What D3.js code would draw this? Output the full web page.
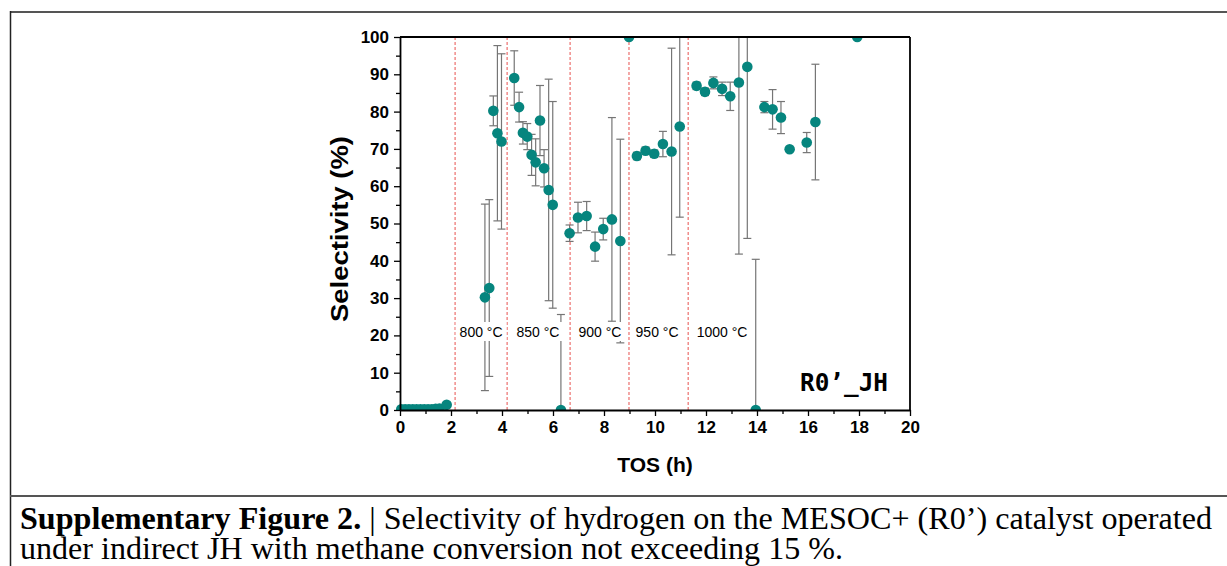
<!DOCTYPE html>
<html>
<head>
<meta charset="utf-8">
<script src="https://cdn.jsdelivr.net/npm/d3@7"></script>
<style>
  body { margin: 0; background: #fff; }
  svg { display: block; }
</style>
</head>
<body>
<div id="chart"></div>
<script>
// TOS (h), selectivity (%) and error (+/- %)
const tos = [0.05, 0.2, 0.35, 0.5, 0.65, 0.8, 0.95, 1.1, 1.25, 1.4, 1.55, 1.83,
  3.33, 3.5, 3.66, 3.82, 3.98,
  4.48, 4.67, 4.82, 4.99, 5.16, 5.32, 5.49, 5.65, 5.83, 5.99, 6.31,
  6.65, 6.98, 7.32, 7.65, 7.97, 8.31, 8.64, 8.98,
  9.29, 9.63, 9.97, 10.31, 10.65, 10.97,
  11.63, 11.96, 12.29, 12.63, 12.95, 13.29, 13.62, 13.95, 14.29, 14.61, 14.94, 15.28, 15.95, 16.29, 17.93];
const selectivity = [0.2, 0.2, 0.2, 0.2, 0.2, 0.2, 0.2, 0.2, 0.2, 0.3, 0.4, 1.4,
  30.2, 32.7, 80.2, 74.2, 72.0,
  89.0, 81.2, 74.3, 73.3, 68.4, 66.4, 77.6, 64.8, 59.0, 55.0, 0,
  47.4, 51.6, 52.0, 43.8, 48.5, 51.1, 45.3, 100,
  68.1, 69.5, 68.7, 71.3, 69.3, 76.0,
  86.9, 85.3, 87.7, 86.1, 84.1, 87.8, 92.0, 0, 81.2, 80.6, 78.4, 69.9, 71.7, 77.2, 100];
const errors = [0, 0, 0, 0, 0, 0, 0, 0, 0, 0, 0.3, 0.6,
  25, 23.7, 4, 23.5, 23.5,
  7.3, 4, 3, 3.5, 5.5, 6.3, 9.4, 5, 29.7, 27.7, 25.6,
  2.2, 4.1, 3.9, 3.9, 2.9, 27.3, 27.3, 0,
  1, 1, 1, 3.4, 27.7, 24.3,
  1, 1, 1.6, 1.8, 3.8, 46, 46, 40.4, 1.5, 5.3, 4.3, 0.5, 2.7, 15.5, 0];

// temperature steps
const tempBounds = [2.16, 4.2, 6.67, 8.98, 11.3];
const tempLabels = ['800 °C', '850 °C', '900 °C', '950 °C', '1000 °C'];
const tempLabelAt = [3.18, 5.41, 7.84, 10.08, 12.63];

const xTickValues = [0, 2, 4, 6, 8, 10, 12, 14, 16, 18, 20];
const yTickValues = [0, 10, 20, 30, 40, 50, 60, 70, 80, 90, 100];

const data = tos.map((t, i) => ({ t, v: selectivity[i], e: errors[i] }));

const W = 1227, H = 566;
const margin = { top: 37, right: W - 910, bottom: H - 410, left: 400 };
const width = W - margin.left - margin.right;
const height = H - margin.top - margin.bottom;
const sans = "'Liberation Sans', Arial, sans-serif";

const svg = d3.select('#chart').append('svg')
  .attr('width', W)
  .attr('height', H)
  .style('font-family', sans);

// outer frame of the figure
svg.append('line').attr('x1', 10).attr('x2', W).attr('y1', 12).attr('y2', 12)
  .attr('stroke', '#555').attr('stroke-width', 2);
svg.append('line').attr('x1', 10.5).attr('x2', 10.5).attr('y1', 11).attr('y2', H)
  .attr('stroke', '#222').attr('stroke-width', 1.5);
svg.append('line').attr('x1', 10).attr('x2', W).attr('y1', 496).attr('y2', 496)
  .attr('stroke', '#555').attr('stroke-width', 2);

const x = d3.scaleLinear().domain([0, 20]).range([0, width]);
const y = d3.scaleLinear().domain([0, 100]).range([height, 0]);

const g = svg.append('g').attr('transform', `translate(${margin.left},${margin.top})`);

g.append('clipPath').attr('id', 'clip')
  .append('rect').attr('x', -8).attr('y', 0).attr('width', width + 16).attr('height', height);

// temperature boundaries
g.selectAll('.tline')
  .data(tempBounds)
  .enter()
  .append('line')
  .attr('x1', d => x(d)).attr('x2', d => x(d))
  .attr('y1', 0).attr('y2', height)
  .attr('stroke', '#e8514f')
  .attr('stroke-width', 1)
  .attr('stroke-dasharray', '3,2');

// error bars
const plot = g.append('g').attr('clip-path', 'url(#clip)');
const bars = plot.selectAll('.err')
  .data(data.filter(d => d.e > 0))
  .enter()
  .append('g')
  .attr('stroke', '#757575')
  .attr('stroke-width', 1.2);
bars.append('line')
  .attr('x1', d => x(d.t)).attr('x2', d => x(d.t))
  .attr('y1', d => y(d.v + d.e)).attr('y2', d => y(Math.max(0, d.v - d.e)));
bars.append('line')
  .attr('x1', d => x(d.t) - 4).attr('x2', d => x(d.t) + 4)
  .attr('y1', d => y(d.v + d.e)).attr('y2', d => y(d.v + d.e));
bars.filter(d => d.v - d.e > 0).append('line')
  .attr('x1', d => x(d.t) - 4).attr('x2', d => x(d.t) + 4)
  .attr('y1', d => y(d.v - d.e)).attr('y2', d => y(d.v - d.e));

// temperature labels (white box masks the bars behind)
const tl = g.selectAll('.tlab')
  .data(tempLabels)
  .enter()
  .append('g')
  .attr('transform', (d, i) => `translate(${x(tempLabelAt[i])},${295})`);
tl.append('rect')
  .attr('x', d => -d.length * 3.9 - 2).attr('y', -10)
  .attr('width', d => d.length * 7.8 + 4).attr('height', 19)
  .attr('fill', '#fff');
tl.append('text')
  .attr('text-anchor', 'middle')
  .attr('dy', '0.35em')
  .style('font-size', '14px')
  .text(d => d);

// points
plot.selectAll('circle')
  .data(data)
  .enter()
  .append('circle')
  .attr('cx', d => x(d.t))
  .attr('cy', d => y(d.v))
  .attr('r', 5.3)
  .attr('fill', '#06857e');

// axes
const xAxis = g.append('g')
  .attr('transform', `translate(0,${height})`)
  .call(d3.axisBottom(x).tickValues(xTickValues).tickSize(6).tickSizeOuter(0).tickPadding(5));
g.append('g')
  .attr('transform', `translate(0,${height})`)
  .call(d3.axisBottom(x).tickValues(d3.range(1, 20, 2)).tickSize(4).tickFormat(''))
  .call(a => a.select('.domain').remove());
const yAxis = g.append('g')
  .call(d3.axisLeft(y).tickValues(yTickValues).tickSize(6).tickSizeOuter(0).tickPadding(5));
g.append('g')
  .call(d3.axisLeft(y).tickValues(d3.range(5, 100, 10)).tickSize(4).tickFormat(''))
  .call(a => a.select('.domain').remove());

g.selectAll('.tick line').attr('stroke', '#000').attr('stroke-width', 1.3);
g.selectAll('.domain').attr('stroke', '#000').attr('stroke-width', 1.8);
[xAxis, yAxis].forEach(a => a.selectAll('text')
  .attr('fill', '#000')
  .style('font-size', '17px')
  .style('font-weight', 'bold')
  .style('font-family', sans));

// top and right border
g.append('line').attr('x1', 0).attr('x2', width).attr('y1', 0).attr('y2', 0)
  .attr('stroke', '#000').attr('stroke-width', 1.8);
g.append('line').attr('x1', width).attr('x2', width).attr('y1', 0).attr('y2', height)
  .attr('stroke', '#000').attr('stroke-width', 1.8);

// axis titles
svg.append('text')
  .attr('x', 655).attr('y', 472)
  .attr('text-anchor', 'middle')
  .style('font-size', '21px').style('font-weight', 'bold')
  .text('TOS (h)');
svg.append('text')
  .attr('transform', 'translate(348,229) rotate(-90)')
  .attr('text-anchor', 'middle')
  .style('font-size', '23px').style('font-weight', 'bold')
  .attr('textLength', 186).attr('lengthAdjust', 'spacingAndGlyphs')
  .text('Selectivity (%)');

// sample tag
svg.append('text')
  .attr('x', 888).attr('y', 391)
  .attr('text-anchor', 'end')
  .style('font-family', "'DejaVu Sans Mono', monospace")
  .style('font-size', '25px').style('font-weight', 'bold')
  .attr('textLength', 88).attr('lengthAdjust', 'spacingAndGlyphs')
  .text('R0’_JH');

// caption
const cap = svg.append('g')
  .style('font-family', "'Liberation Serif', 'Times New Roman', serif")
  .style('font-size', '31px');
const c1 = cap.append('text').attr('x', 20).attr('y', 529)
  .attr('textLength', 1192).attr('lengthAdjust', 'spacingAndGlyphs');
c1.append('tspan').style('font-weight', 'bold').text('Supplementary Figure 2.');
c1.append('tspan').text(' | Selectivity of hydrogen on the MESOC+ (R0’) catalyst operated');
cap.append('text').attr('x', 20).attr('y', 559)
  .attr('textLength', 823).attr('lengthAdjust', 'spacingAndGlyphs')
  .text('under indirect JH with methane conversion not exceeding 15 %.');
</script>
</body>
</html>
